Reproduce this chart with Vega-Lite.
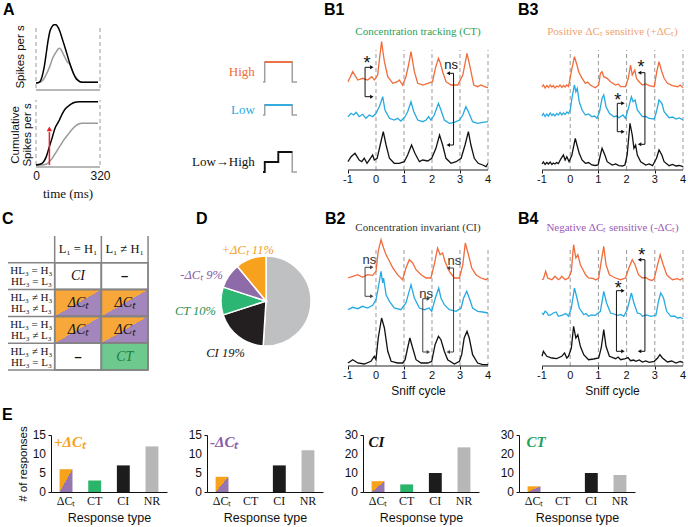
{
"$schema":"https://vega.github.io/schema/vega-lite/v6.json",
"background":"white",
"padding":{"left":1,"top":2,"right":2,"bottom":2},
"spacing":10,
"resolve":{"scale":{"color":"independent","shape":"independent"}},
"config":{"view":{"stroke":null},"font":"Liberation Sans","axis":{"grid":false,"labelColor":"#111","titleColor":"#111","domainColor":"#111","tickColor":"#111","titleFontWeight":"normal","labelFont":"Liberation Sans","titleFont":"Liberation Sans"},"text":{"font":"Liberation Sans"}},
"datasets":{
"psth":[{"stim":"s2","t":0,"rate":0},{"stim":"s2","t":20,"rate":0.01},{"stim":"s2","t":30,"rate":0.03},{"stim":"s2","t":40,"rate":0.07},{"stim":"s2","t":50,"rate":0.13},{"stim":"s2","t":58,"rate":0.18},{"stim":"s2","t":70,"rate":0.27},{"stim":"s2","t":83,"rate":0.39},{"stim":"s2","t":95,"rate":0.46},{"stim":"s2","t":105,"rate":0.51},{"stim":"s2","t":115,"rate":0.55},{"stim":"s2","t":122,"rate":0.54},{"stim":"s2","t":130,"rate":0.5},{"stim":"s2","t":142,"rate":0.42},{"stim":"s2","t":150,"rate":0.37},{"stim":"s2","t":160,"rate":0.32},{"stim":"s2","t":168,"rate":0.3},{"stim":"s2","t":175,"rate":0.25},{"stim":"s2","t":183,"rate":0.18},{"stim":"s2","t":195,"rate":0.11},{"stim":"s2","t":208,"rate":0.055},{"stim":"s2","t":220,"rate":0.02},{"stim":"s2","t":235,"rate":0.01},{"stim":"s2","t":310,"rate":0.01},
{"stim":"s1","t":0,"rate":0},{"stim":"s1","t":15,"rate":0.01},{"stim":"s1","t":25,"rate":0.05},{"stim":"s1","t":35,"rate":0.16},{"stim":"s1","t":42,"rate":0.27},{"stim":"s1","t":50,"rate":0.44},{"stim":"s1","t":60,"rate":0.66},{"stim":"s1","t":70,"rate":0.82},{"stim":"s1","t":80,"rate":0.89},{"stim":"s1","t":90,"rate":0.92},{"stim":"s1","t":100,"rate":0.92},{"stim":"s1","t":110,"rate":0.88},{"stim":"s1","t":120,"rate":0.81},{"stim":"s1","t":130,"rate":0.71},{"stim":"s1","t":140,"rate":0.61},{"stim":"s1","t":150,"rate":0.51},{"stim":"s1","t":160,"rate":0.4},{"stim":"s1","t":170,"rate":0.3},{"stim":"s1","t":180,"rate":0.21},{"stim":"s1","t":190,"rate":0.13},{"stim":"s1","t":200,"rate":0.07},{"stim":"s1","t":210,"rate":0.04},{"stim":"s1","t":220,"rate":0.02},{"stim":"s1","t":240,"rate":0.01},{"stim":"s1","t":310,"rate":0.01}],
"cum":[{"stim":"s2","t":0,"rate":0},{"stim":"s2","t":40,"rate":0.005},{"stim":"s2","t":60,"rate":0.03},{"stim":"s2","t":80,"rate":0.1},{"stim":"s2","t":100,"rate":0.2},{"stim":"s2","t":120,"rate":0.3},{"stim":"s2","t":140,"rate":0.4},{"stim":"s2","t":160,"rate":0.48},{"stim":"s2","t":180,"rate":0.56},{"stim":"s2","t":200,"rate":0.62},{"stim":"s2","t":215,"rate":0.65},{"stim":"s2","t":230,"rate":0.66},{"stim":"s2","t":310,"rate":0.66},
{"stim":"s1","t":0,"rate":0},{"stim":"s1","t":20,"rate":0.01},{"stim":"s1","t":35,"rate":0.04},{"stim":"s1","t":50,"rate":0.12},{"stim":"s1","t":67,"rate":0.29},{"stim":"s1","t":80,"rate":0.42},{"stim":"s1","t":95,"rate":0.58},{"stim":"s1","t":110,"rate":0.67},{"stim":"s1","t":117,"rate":0.71},{"stim":"s1","t":130,"rate":0.8},{"stim":"s1","t":145,"rate":0.88},{"stim":"s1","t":158,"rate":0.92},{"stim":"s1","t":175,"rate":0.96},{"stim":"s1","t":195,"rate":0.99},{"stim":"s1","t":215,"rate":1.0},{"stim":"s1","t":310,"rate":1.0}],
"stim":[{"icon":"High","t":0,"c":0},{"icon":"High","t":0.05,"c":1},{"icon":"High","t":0.86,"c":0},{"icon":"High","t":1,"c":0},{"icon":"Low","t":0,"c":0},{"icon":"Low","t":0.05,"c":0.5},{"icon":"Low","t":0.86,"c":0},{"icon":"Low","t":1,"c":0},{"icon":"Low→High","t":0,"c":0},{"icon":"Low→High","t":0.05,"c":0.5},{"icon":"Low→High","t":0.45,"c":1},{"icon":"Low→High","t":0.86,"c":0},{"icon":"Low→High","t":1,"c":0}],
"stimOn":[{"icon":"High","t":0.05,"c":1},{"icon":"High","t":0.86,"c":1},{"icon":"Low","t":0.05,"c":0.5},{"icon":"Low","t":0.86,"c":0.5},{"icon":"Low→High","t":0,"c":0},{"icon":"Low→High","t":0.05,"c":0.5},{"icon":"Low→High","t":0.45,"c":1},{"icon":"Low→High","t":0.86,"c":1}],
"ticksB":[{"cycle":-1},{"cycle":0},{"cycle":1},{"cycle":2},{"cycle":3},{"cycle":4}],
"b1":[{"cond":"High","cycle":-1.0,"rate":8.83},{"cond":"High","cycle":-0.83,"rate":9.83},{"cond":"High","cycle":-0.65,"rate":9.0},{"cond":"High","cycle":-0.48,"rate":9.17},{"cond":"High","cycle":-0.3,"rate":9.0},{"cond":"High","cycle":-0.15,"rate":9.33},{"cond":"High","cycle":-0.06,"rate":9.0},{"cond":"High","cycle":0.06,"rate":9.5},{"cond":"High","cycle":0.12,"rate":11.0},{"cond":"High","cycle":0.2,"rate":12.83},{"cond":"High","cycle":0.25,"rate":11.8},{"cond":"High","cycle":0.3,"rate":10.83},{"cond":"High","cycle":0.42,"rate":9.33},{"cond":"High","cycle":0.6,"rate":8.67},{"cond":"High","cycle":0.77,"rate":8.83},{"cond":"High","cycle":0.83,"rate":9.0},{"cond":"High","cycle":0.95,"rate":8.5},{"cond":"High","cycle":1.07,"rate":9.33},{"cond":"High","cycle":1.17,"rate":10.6},{"cond":"High","cycle":1.25,"rate":11.83},{"cond":"High","cycle":1.37,"rate":9.83},{"cond":"High","cycle":1.49,"rate":8.67},{"cond":"High","cycle":1.67,"rate":8.5},{"cond":"High","cycle":1.85,"rate":8.67},{"cond":"High","cycle":2.02,"rate":8.83},{"cond":"High","cycle":2.12,"rate":10.17},{"cond":"High","cycle":2.23,"rate":11.17},{"cond":"High","cycle":2.3,"rate":10.67},{"cond":"High","cycle":2.38,"rate":9.83},{"cond":"High","cycle":2.5,"rate":8.83},{"cond":"High","cycle":2.68,"rate":8.5},{"cond":"High","cycle":2.92,"rate":8.5},{"cond":"High","cycle":3.1,"rate":9.5},{"cond":"High","cycle":3.25,"rate":11.67},{"cond":"High","cycle":3.37,"rate":10.17},{"cond":"High","cycle":3.49,"rate":8.5},{"cond":"High","cycle":3.63,"rate":8.33},{"cond":"High","cycle":3.75,"rate":8.5},{"cond":"High","cycle":3.87,"rate":8.33},{"cond":"High","cycle":4.0,"rate":8.23},
{"cond":"Low","cycle":-1.0,"rate":5.33},{"cond":"Low","cycle":-0.89,"rate":5.67},{"cond":"Low","cycle":-0.8,"rate":5.5},{"cond":"Low","cycle":-0.71,"rate":5.77},{"cond":"Low","cycle":-0.6,"rate":5.33},{"cond":"Low","cycle":-0.48,"rate":5.57},{"cond":"Low","cycle":-0.36,"rate":5.17},{"cond":"Low","cycle":-0.24,"rate":5.5},{"cond":"Low","cycle":-0.12,"rate":5.33},{"cond":"Low","cycle":0.0,"rate":5.67},{"cond":"Low","cycle":0.12,"rate":6.33},{"cond":"Low","cycle":0.24,"rate":7.33},{"cond":"Low","cycle":0.32,"rate":6.0},{"cond":"Low","cycle":0.48,"rate":5.17},{"cond":"Low","cycle":0.65,"rate":5.0},{"cond":"Low","cycle":0.77,"rate":5.17},{"cond":"Low","cycle":0.89,"rate":4.9},{"cond":"Low","cycle":1.04,"rate":5.33},{"cond":"Low","cycle":1.13,"rate":5.83},{"cond":"Low","cycle":1.25,"rate":6.83},{"cond":"Low","cycle":1.35,"rate":5.83},{"cond":"Low","cycle":1.49,"rate":5.0},{"cond":"Low","cycle":1.67,"rate":4.83},{"cond":"Low","cycle":1.79,"rate":5.0},{"cond":"Low","cycle":1.88,"rate":5.33},{"cond":"Low","cycle":1.96,"rate":5.0},{"cond":"Low","cycle":2.08,"rate":5.5},{"cond":"Low","cycle":2.23,"rate":6.67},{"cond":"Low","cycle":2.32,"rate":6.0},{"cond":"Low","cycle":2.44,"rate":5.0},{"cond":"Low","cycle":2.62,"rate":4.67},{"cond":"Low","cycle":2.8,"rate":4.77},{"cond":"Low","cycle":2.98,"rate":5.0},{"cond":"Low","cycle":3.1,"rate":5.5},{"cond":"Low","cycle":3.21,"rate":6.33},{"cond":"Low","cycle":3.3,"rate":5.83},{"cond":"Low","cycle":3.45,"rate":4.83},{"cond":"Low","cycle":3.63,"rate":4.67},{"cond":"Low","cycle":3.81,"rate":4.77},{"cond":"Low","cycle":4.0,"rate":4.83},
{"cond":"Low→High","cycle":-1.0,"rate":0.83},{"cond":"Low→High","cycle":-0.89,"rate":1.33},{"cond":"Low→High","cycle":-0.75,"rate":1.67},{"cond":"Low→High","cycle":-0.6,"rate":1.0},{"cond":"Low→High","cycle":-0.51,"rate":0.83},{"cond":"Low→High","cycle":-0.42,"rate":1.17},{"cond":"Low→High","cycle":-0.32,"rate":0.67},{"cond":"Low→High","cycle":-0.2,"rate":1.17},{"cond":"Low→High","cycle":-0.12,"rate":1.5},{"cond":"Low→High","cycle":-0.06,"rate":1.0},{"cond":"Low→High","cycle":0.04,"rate":1.17},{"cond":"Low→High","cycle":0.15,"rate":2.5},{"cond":"Low→High","cycle":0.26,"rate":3.83},{"cond":"Low→High","cycle":0.36,"rate":2.5},{"cond":"Low→High","cycle":0.48,"rate":1.17},{"cond":"Low→High","cycle":0.65,"rate":0.67},{"cond":"Low→High","cycle":0.83,"rate":0.67},{"cond":"Low→High","cycle":1.01,"rate":0.83},{"cond":"Low→High","cycle":1.13,"rate":1.5},{"cond":"Low→High","cycle":1.27,"rate":2.5},{"cond":"Low→High","cycle":1.39,"rate":1.67},{"cond":"Low→High","cycle":1.55,"rate":0.83},{"cond":"Low→High","cycle":1.67,"rate":1.0},{"cond":"Low→High","cycle":1.85,"rate":0.9},{"cond":"Low→High","cycle":1.99,"rate":1.17},{"cond":"Low→High","cycle":2.14,"rate":2.17},{"cond":"Low→High","cycle":2.27,"rate":3.5},{"cond":"Low→High","cycle":2.38,"rate":2.5},{"cond":"Low→High","cycle":2.5,"rate":1.17},{"cond":"Low→High","cycle":2.68,"rate":0.67},{"cond":"Low→High","cycle":2.86,"rate":0.83},{"cond":"Low→High","cycle":3.04,"rate":1.17},{"cond":"Low→High","cycle":3.18,"rate":2.5},{"cond":"Low→High","cycle":3.3,"rate":3.83},{"cond":"Low→High","cycle":3.39,"rate":2.5},{"cond":"Low→High","cycle":3.51,"rate":1.17},{"cond":"Low→High","cycle":3.65,"rate":0.67},{"cond":"Low→High","cycle":3.81,"rate":0.5},{"cond":"Low→High","cycle":3.93,"rate":0.33},{"cond":"Low→High","cycle":4.0,"rate":0.67}],
"b3":[{"cond":"High","cycle":-1.0,"rate":8.3},{"cond":"High","cycle":-0.95,"rate":8.5},{"cond":"High","cycle":-0.89,"rate":8.2},{"cond":"High","cycle":-0.83,"rate":8.45},{"cond":"High","cycle":-0.77,"rate":8.25},{"cond":"High","cycle":-0.71,"rate":8.5},{"cond":"High","cycle":-0.65,"rate":8.3},{"cond":"High","cycle":-0.6,"rate":8.45},{"cond":"High","cycle":-0.54,"rate":8.2},{"cond":"High","cycle":-0.48,"rate":8.4},{"cond":"High","cycle":-0.42,"rate":8.3},{"cond":"High","cycle":-0.36,"rate":8.5},{"cond":"High","cycle":-0.3,"rate":8.25},{"cond":"High","cycle":-0.24,"rate":8.45},{"cond":"High","cycle":-0.18,"rate":8.3},{"cond":"High","cycle":-0.12,"rate":8.5},{"cond":"High","cycle":-0.06,"rate":8.35},{"cond":"High","cycle":0.04,"rate":9.83},{"cond":"High","cycle":0.15,"rate":11.33},{"cond":"High","cycle":0.24,"rate":10.5},{"cond":"High","cycle":0.3,"rate":9.83},{"cond":"High","cycle":0.42,"rate":9.17},{"cond":"High","cycle":0.54,"rate":8.67},{"cond":"High","cycle":0.62,"rate":8.8},{"cond":"High","cycle":0.71,"rate":8.5},{"cond":"High","cycle":0.8,"rate":8.35},{"cond":"High","cycle":0.89,"rate":8.23},{"cond":"High","cycle":1.01,"rate":8.5},{"cond":"High","cycle":1.07,"rate":9.67},{"cond":"High","cycle":1.13,"rate":9.83},{"cond":"High","cycle":1.19,"rate":9.33},{"cond":"High","cycle":1.31,"rate":9.17},{"cond":"High","cycle":1.43,"rate":8.83},{"cond":"High","cycle":1.61,"rate":8.5},{"cond":"High","cycle":1.7,"rate":8.6},{"cond":"High","cycle":1.79,"rate":8.33},{"cond":"High","cycle":1.96,"rate":8.33},{"cond":"High","cycle":2.06,"rate":9.17},{"cond":"High","cycle":2.14,"rate":10.5},{"cond":"High","cycle":2.2,"rate":9.5},{"cond":"High","cycle":2.29,"rate":10.0},{"cond":"High","cycle":2.35,"rate":9.17},{"cond":"High","cycle":2.44,"rate":8.83},{"cond":"High","cycle":2.56,"rate":8.5},{"cond":"High","cycle":2.68,"rate":8.6},{"cond":"High","cycle":2.8,"rate":8.43},{"cond":"High","cycle":2.98,"rate":8.33},{"cond":"High","cycle":3.07,"rate":9.83},{"cond":"High","cycle":3.15,"rate":10.83},{"cond":"High","cycle":3.25,"rate":9.83},{"cond":"High","cycle":3.33,"rate":9.17},{"cond":"High","cycle":3.45,"rate":8.67},{"cond":"High","cycle":3.63,"rate":8.43},{"cond":"High","cycle":3.81,"rate":8.33},{"cond":"High","cycle":3.9,"rate":8.5},{"cond":"High","cycle":4.0,"rate":8.23},
{"cond":"Low","cycle":-1.0,"rate":5.4},{"cond":"Low","cycle":-0.95,"rate":5.65},{"cond":"Low","cycle":-0.89,"rate":5.35},{"cond":"Low","cycle":-0.83,"rate":5.6},{"cond":"Low","cycle":-0.77,"rate":5.4},{"cond":"Low","cycle":-0.71,"rate":5.7},{"cond":"Low","cycle":-0.65,"rate":5.45},{"cond":"Low","cycle":-0.6,"rate":5.6},{"cond":"Low","cycle":-0.54,"rate":5.4},{"cond":"Low","cycle":-0.48,"rate":5.65},{"cond":"Low","cycle":-0.42,"rate":5.5},{"cond":"Low","cycle":-0.36,"rate":5.75},{"cond":"Low","cycle":-0.3,"rate":5.5},{"cond":"Low","cycle":-0.24,"rate":5.7},{"cond":"Low","cycle":-0.18,"rate":5.55},{"cond":"Low","cycle":-0.12,"rate":5.8},{"cond":"Low","cycle":-0.06,"rate":5.65},{"cond":"Low","cycle":0.0,"rate":6.0},{"cond":"Low","cycle":0.08,"rate":7.5},{"cond":"Low","cycle":0.15,"rate":8.5},{"cond":"Low","cycle":0.2,"rate":7.83},{"cond":"Low","cycle":0.25,"rate":8.17},{"cond":"Low","cycle":0.32,"rate":6.83},{"cond":"Low","cycle":0.42,"rate":6.0},{"cond":"Low","cycle":0.54,"rate":5.5},{"cond":"Low","cycle":0.65,"rate":5.6},{"cond":"Low","cycle":0.77,"rate":5.33},{"cond":"Low","cycle":0.86,"rate":5.4},{"cond":"Low","cycle":0.95,"rate":5.17},{"cond":"Low","cycle":1.04,"rate":5.83},{"cond":"Low","cycle":1.13,"rate":7.17},{"cond":"Low","cycle":1.19,"rate":7.5},{"cond":"Low","cycle":1.27,"rate":6.33},{"cond":"Low","cycle":1.39,"rate":5.67},{"cond":"Low","cycle":1.55,"rate":5.33},{"cond":"Low","cycle":1.65,"rate":5.4},{"cond":"Low","cycle":1.73,"rate":5.23},{"cond":"Low","cycle":1.87,"rate":5.5},{"cond":"Low","cycle":1.96,"rate":5.17},{"cond":"Low","cycle":2.08,"rate":6.33},{"cond":"Low","cycle":2.17,"rate":7.33},{"cond":"Low","cycle":2.23,"rate":6.83},{"cond":"Low","cycle":2.3,"rate":7.0},{"cond":"Low","cycle":2.38,"rate":6.0},{"cond":"Low","cycle":2.56,"rate":5.33},{"cond":"Low","cycle":2.68,"rate":5.35},{"cond":"Low","cycle":2.8,"rate":5.17},{"cond":"Low","cycle":2.98,"rate":5.1},{"cond":"Low","cycle":3.06,"rate":5.83},{"cond":"Low","cycle":3.15,"rate":7.0},{"cond":"Low","cycle":3.25,"rate":6.67},{"cond":"Low","cycle":3.33,"rate":5.83},{"cond":"Low","cycle":3.51,"rate":5.23},{"cond":"Low","cycle":3.63,"rate":5.3},{"cond":"Low","cycle":3.75,"rate":5.1},{"cond":"Low","cycle":3.87,"rate":5.2},{"cond":"Low","cycle":4.0,"rate":5.0},
{"cond":"Low→High","cycle":-1.0,"rate":0.6},{"cond":"Low→High","cycle":-0.95,"rate":0.8},{"cond":"Low→High","cycle":-0.89,"rate":0.55},{"cond":"Low→High","cycle":-0.83,"rate":0.75},{"cond":"Low→High","cycle":-0.77,"rate":0.6},{"cond":"Low→High","cycle":-0.71,"rate":0.8},{"cond":"Low→High","cycle":-0.65,"rate":0.55},{"cond":"Low→High","cycle":-0.6,"rate":0.7},{"cond":"Low→High","cycle":-0.54,"rate":0.6},{"cond":"Low→High","cycle":-0.48,"rate":0.75},{"cond":"Low→High","cycle":-0.42,"rate":0.65},{"cond":"Low→High","cycle":-0.32,"rate":1.17},{"cond":"Low→High","cycle":-0.24,"rate":1.5},{"cond":"Low→High","cycle":-0.18,"rate":1.0},{"cond":"Low→High","cycle":-0.12,"rate":1.33},{"cond":"Low→High","cycle":-0.04,"rate":0.83},{"cond":"Low→High","cycle":0.06,"rate":1.5},{"cond":"Low→High","cycle":0.18,"rate":3.17},{"cond":"Low→High","cycle":0.24,"rate":2.5},{"cond":"Low→High","cycle":0.32,"rate":1.67},{"cond":"Low→High","cycle":0.42,"rate":1.0},{"cond":"Low→High","cycle":0.54,"rate":0.67},{"cond":"Low→High","cycle":0.65,"rate":0.75},{"cond":"Low→High","cycle":0.77,"rate":0.5},{"cond":"Low→High","cycle":0.89,"rate":0.45},{"cond":"Low→High","cycle":0.99,"rate":0.5},{"cond":"Low→High","cycle":1.07,"rate":1.5},{"cond":"Low→High","cycle":1.13,"rate":2.17},{"cond":"Low→High","cycle":1.23,"rate":1.5},{"cond":"Low→High","cycle":1.31,"rate":0.83},{"cond":"Low→High","cycle":1.49,"rate":0.5},{"cond":"Low→High","cycle":1.61,"rate":0.6},{"cond":"Low→High","cycle":1.73,"rate":0.43},{"cond":"Low→High","cycle":1.85,"rate":0.4},{"cond":"Low→High","cycle":1.94,"rate":0.5},{"cond":"Low→High","cycle":2.02,"rate":1.5},{"cond":"Low→High","cycle":2.12,"rate":4.67},{"cond":"Low→High","cycle":2.2,"rate":3.5},{"cond":"Low→High","cycle":2.26,"rate":2.17},{"cond":"Low→High","cycle":2.32,"rate":2.5},{"cond":"Low→High","cycle":2.38,"rate":1.5},{"cond":"Low→High","cycle":2.5,"rate":0.83},{"cond":"Low→High","cycle":2.68,"rate":0.5},{"cond":"Low→High","cycle":2.8,"rate":0.6},{"cond":"Low→High","cycle":2.92,"rate":0.43},{"cond":"Low→High","cycle":3.06,"rate":1.17},{"cond":"Low→High","cycle":3.15,"rate":2.0},{"cond":"Low→High","cycle":3.25,"rate":1.5},{"cond":"Low→High","cycle":3.33,"rate":0.83},{"cond":"Low→High","cycle":3.51,"rate":0.43},{"cond":"Low→High","cycle":3.63,"rate":0.55},{"cond":"Low→High","cycle":3.75,"rate":0.4},{"cond":"Low→High","cycle":3.87,"rate":0.45},{"cond":"Low→High","cycle":4.0,"rate":0.33}],
"b2":[{"cond":"High","cycle":-1.0,"rate":8.8},{"cond":"High","cycle":-0.83,"rate":8.97},{"cond":"High","cycle":-0.65,"rate":9.13},{"cond":"High","cycle":-0.48,"rate":8.87},{"cond":"High","cycle":-0.3,"rate":9.13},{"cond":"High","cycle":-0.12,"rate":9.07},{"cond":"High","cycle":0.0,"rate":9.47},{"cond":"High","cycle":0.08,"rate":11.47},{"cond":"High","cycle":0.18,"rate":12.63},{"cond":"High","cycle":0.27,"rate":11.8},{"cond":"High","cycle":0.36,"rate":11.13},{"cond":"High","cycle":0.48,"rate":10.47},{"cond":"High","cycle":0.6,"rate":9.8},{"cond":"High","cycle":0.77,"rate":9.13},{"cond":"High","cycle":0.95,"rate":8.63},{"cond":"High","cycle":1.07,"rate":9.8},{"cond":"High","cycle":1.19,"rate":10.63},{"cond":"High","cycle":1.31,"rate":10.3},{"cond":"High","cycle":1.43,"rate":9.63},{"cond":"High","cycle":1.61,"rate":9.13},{"cond":"High","cycle":1.79,"rate":8.8},{"cond":"High","cycle":1.96,"rate":8.8},{"cond":"High","cycle":2.08,"rate":10.13},{"cond":"High","cycle":2.2,"rate":11.8},{"cond":"High","cycle":2.29,"rate":11.13},{"cond":"High","cycle":2.38,"rate":11.3},{"cond":"High","cycle":2.46,"rate":10.47},{"cond":"High","cycle":2.62,"rate":9.47},{"cond":"High","cycle":2.8,"rate":8.8},{"cond":"High","cycle":2.98,"rate":8.8},{"cond":"High","cycle":3.1,"rate":10.13},{"cond":"High","cycle":3.19,"rate":12.3},{"cond":"High","cycle":3.3,"rate":11.13},{"cond":"High","cycle":3.42,"rate":9.8},{"cond":"High","cycle":3.57,"rate":9.13},{"cond":"High","cycle":3.75,"rate":8.8},{"cond":"High","cycle":3.93,"rate":8.63},{"cond":"High","cycle":4.0,"rate":8.8},
{"cond":"Low","cycle":-1.0,"rate":5.63},{"cond":"Low","cycle":-0.83,"rate":5.87},{"cond":"Low","cycle":-0.65,"rate":5.73},{"cond":"Low","cycle":-0.48,"rate":5.97},{"cond":"Low","cycle":-0.3,"rate":5.8},{"cond":"Low","cycle":-0.12,"rate":6.07},{"cond":"Low","cycle":0.0,"rate":6.63},{"cond":"Low","cycle":0.08,"rate":7.8},{"cond":"Low","cycle":0.18,"rate":9.47},{"cond":"Low","cycle":0.24,"rate":8.3},{"cond":"Low","cycle":0.27,"rate":8.8},{"cond":"Low","cycle":0.36,"rate":7.13},{"cond":"Low","cycle":0.48,"rate":6.47},{"cond":"Low","cycle":0.65,"rate":5.8},{"cond":"Low","cycle":0.89,"rate":5.63},{"cond":"Low","cycle":1.07,"rate":6.3},{"cond":"Low","cycle":1.25,"rate":8.13},{"cond":"Low","cycle":1.37,"rate":6.8},{"cond":"Low","cycle":1.55,"rate":5.8},{"cond":"Low","cycle":1.73,"rate":5.63},{"cond":"Low","cycle":1.9,"rate":5.8},{"cond":"Low","cycle":1.99,"rate":5.47},{"cond":"Low","cycle":2.12,"rate":6.8},{"cond":"Low","cycle":2.24,"rate":7.8},{"cond":"Low","cycle":2.32,"rate":6.8},{"cond":"Low","cycle":2.44,"rate":6.13},{"cond":"Low","cycle":2.62,"rate":5.63},{"cond":"Low","cycle":2.86,"rate":5.47},{"cond":"Low","cycle":3.04,"rate":5.8},{"cond":"Low","cycle":3.13,"rate":6.8},{"cond":"Low","cycle":3.24,"rate":7.47},{"cond":"Low","cycle":3.33,"rate":6.8},{"cond":"Low","cycle":3.45,"rate":5.8},{"cond":"Low","cycle":3.63,"rate":5.47},{"cond":"Low","cycle":3.81,"rate":5.4},{"cond":"Low","cycle":4.0,"rate":5.3},
{"cond":"Low→High","cycle":-1.0,"rate":0.3},{"cond":"Low→High","cycle":-0.83,"rate":0.63},{"cond":"Low→High","cycle":-0.65,"rate":0.3},{"cond":"Low→High","cycle":-0.42,"rate":0.2},{"cond":"Low→High","cycle":-0.18,"rate":0.47},{"cond":"Low→High","cycle":-0.06,"rate":0.97},{"cond":"Low→High","cycle":0.0,"rate":0.63},{"cond":"Low→High","cycle":0.08,"rate":2.8},{"cond":"Low→High","cycle":0.2,"rate":4.8},{"cond":"Low→High","cycle":0.3,"rate":3.8},{"cond":"Low→High","cycle":0.42,"rate":1.47},{"cond":"Low→High","cycle":0.54,"rate":0.47},{"cond":"Low→High","cycle":0.77,"rate":0.3},{"cond":"Low→High","cycle":0.95,"rate":0.3},{"cond":"Low→High","cycle":1.04,"rate":0.63},{"cond":"Low→High","cycle":1.13,"rate":1.8},{"cond":"Low→High","cycle":1.21,"rate":2.8},{"cond":"Low→High","cycle":1.31,"rate":1.8},{"cond":"Low→High","cycle":1.43,"rate":0.63},{"cond":"Low→High","cycle":1.61,"rate":0.3},{"cond":"Low→High","cycle":1.85,"rate":0.3},{"cond":"Low→High","cycle":1.99,"rate":0.47},{"cond":"Low→High","cycle":2.11,"rate":2.13},{"cond":"Low→High","cycle":2.23,"rate":2.97},{"cond":"Low→High","cycle":2.32,"rate":2.63},{"cond":"Low→High","cycle":2.44,"rate":1.47},{"cond":"Low→High","cycle":2.56,"rate":0.63},{"cond":"Low→High","cycle":2.8,"rate":0.2},{"cond":"Low→High","cycle":2.98,"rate":0.47},{"cond":"Low→High","cycle":3.06,"rate":1.13},{"cond":"Low→High","cycle":3.15,"rate":2.8},{"cond":"Low→High","cycle":3.25,"rate":3.47},{"cond":"Low→High","cycle":3.33,"rate":2.8},{"cond":"Low→High","cycle":3.45,"rate":1.13},{"cond":"Low→High","cycle":3.63,"rate":0.3},{"cond":"Low→High","cycle":3.81,"rate":0.13},{"cond":"Low→High","cycle":4.0,"rate":0.13}],
"b4":[{"cond":"High","cycle":-1.0,"rate":8.63},{"cond":"High","cycle":-0.95,"rate":8.7},{"cond":"High","cycle":-0.87,"rate":9.47},{"cond":"High","cycle":-0.8,"rate":8.8},{"cond":"High","cycle":-0.65,"rate":8.63},{"cond":"High","cycle":-0.54,"rate":8.97},{"cond":"High","cycle":-0.42,"rate":8.63},{"cond":"High","cycle":-0.36,"rate":8.75},{"cond":"High","cycle":-0.3,"rate":8.97},{"cond":"High","cycle":-0.18,"rate":8.63},{"cond":"High","cycle":-0.06,"rate":8.8},{"cond":"High","cycle":0.04,"rate":9.47},{"cond":"High","cycle":0.12,"rate":12.13},{"cond":"High","cycle":0.2,"rate":10.8},{"cond":"High","cycle":0.27,"rate":11.13},{"cond":"High","cycle":0.36,"rate":10.13},{"cond":"High","cycle":0.48,"rate":9.47},{"cond":"High","cycle":0.55,"rate":9.1},{"cond":"High","cycle":0.65,"rate":8.8},{"cond":"High","cycle":0.83,"rate":8.73},{"cond":"High","cycle":0.9,"rate":8.6},{"cond":"High","cycle":1.01,"rate":8.8},{"cond":"High","cycle":1.1,"rate":10.47},{"cond":"High","cycle":1.19,"rate":11.97},{"cond":"High","cycle":1.27,"rate":10.13},{"cond":"High","cycle":1.39,"rate":9.13},{"cond":"High","cycle":1.5,"rate":8.95},{"cond":"High","cycle":1.61,"rate":8.8},{"cond":"High","cycle":1.7,"rate":8.7},{"cond":"High","cycle":1.79,"rate":8.63},{"cond":"High","cycle":1.96,"rate":8.8},{"cond":"High","cycle":2.08,"rate":9.8},{"cond":"High","cycle":2.2,"rate":10.63},{"cond":"High","cycle":2.3,"rate":10.13},{"cond":"High","cycle":2.42,"rate":9.13},{"cond":"High","cycle":2.56,"rate":8.8},{"cond":"High","cycle":2.68,"rate":8.85},{"cond":"High","cycle":2.8,"rate":8.63},{"cond":"High","cycle":2.9,"rate":8.55},{"cond":"High","cycle":2.98,"rate":8.73},{"cond":"High","cycle":3.1,"rate":10.13},{"cond":"High","cycle":3.19,"rate":11.13},{"cond":"High","cycle":3.3,"rate":10.13},{"cond":"High","cycle":3.42,"rate":9.13},{"cond":"High","cycle":3.5,"rate":8.9},{"cond":"High","cycle":3.63,"rate":8.63},{"cond":"High","cycle":3.81,"rate":8.73},{"cond":"High","cycle":3.9,"rate":8.6},{"cond":"High","cycle":4.0,"rate":8.8},
{"cond":"Low","cycle":-1.0,"rate":5.3},{"cond":"Low","cycle":-0.95,"rate":5.15},{"cond":"Low","cycle":-0.89,"rate":5.47},{"cond":"Low","cycle":-0.83,"rate":5.35},{"cond":"Low","cycle":-0.77,"rate":5.07},{"cond":"Low","cycle":-0.7,"rate":5.1},{"cond":"Low","cycle":-0.6,"rate":5.3},{"cond":"Low","cycle":-0.5,"rate":5.4},{"cond":"Low","cycle":-0.42,"rate":4.97},{"cond":"Low","cycle":-0.3,"rate":5.05},{"cond":"Low","cycle":-0.24,"rate":5.13},{"cond":"Low","cycle":-0.15,"rate":5.25},{"cond":"Low","cycle":-0.06,"rate":4.97},{"cond":"Low","cycle":0.04,"rate":5.8},{"cond":"Low","cycle":0.15,"rate":7.8},{"cond":"Low","cycle":0.24,"rate":6.8},{"cond":"Low","cycle":0.32,"rate":5.8},{"cond":"Low","cycle":0.48,"rate":5.13},{"cond":"Low","cycle":0.56,"rate":5.25},{"cond":"Low","cycle":0.65,"rate":4.97},{"cond":"Low","cycle":0.75,"rate":5.1},{"cond":"Low","cycle":0.89,"rate":5.07},{"cond":"Low","cycle":1.07,"rate":5.47},{"cond":"Low","cycle":1.19,"rate":7.47},{"cond":"Low","cycle":1.29,"rate":6.3},{"cond":"Low","cycle":1.43,"rate":5.3},{"cond":"Low","cycle":1.55,"rate":5.2},{"cond":"Low","cycle":1.67,"rate":5.07},{"cond":"Low","cycle":1.8,"rate":5.15},{"cond":"Low","cycle":1.9,"rate":4.97},{"cond":"Low","cycle":2.02,"rate":5.63},{"cond":"Low","cycle":2.17,"rate":7.3},{"cond":"Low","cycle":2.26,"rate":6.3},{"cond":"Low","cycle":2.38,"rate":5.3},{"cond":"Low","cycle":2.5,"rate":5.2},{"cond":"Low","cycle":2.56,"rate":4.97},{"cond":"Low","cycle":2.7,"rate":5.1},{"cond":"Low","cycle":2.86,"rate":4.97},{"cond":"Low","cycle":3.04,"rate":5.07},{"cond":"Low","cycle":3.13,"rate":6.47},{"cond":"Low","cycle":3.21,"rate":7.3},{"cond":"Low","cycle":3.31,"rate":6.8},{"cond":"Low","cycle":3.42,"rate":5.47},{"cond":"Low","cycle":3.57,"rate":4.97},{"cond":"Low","cycle":3.7,"rate":5.0},{"cond":"Low","cycle":3.81,"rate":4.8},{"cond":"Low","cycle":3.9,"rate":4.85},{"cond":"Low","cycle":4.0,"rate":4.73},
{"cond":"Low→High","cycle":-1.0,"rate":0.97},{"cond":"Low→High","cycle":-0.95,"rate":1.47},{"cond":"Low→High","cycle":-0.83,"rate":0.97},{"cond":"Low→High","cycle":-0.65,"rate":0.8},{"cond":"Low→High","cycle":-0.48,"rate":0.73},{"cond":"Low→High","cycle":-0.3,"rate":0.97},{"cond":"Low→High","cycle":-0.2,"rate":1.3},{"cond":"Low→High","cycle":-0.12,"rate":0.8},{"cond":"Low→High","cycle":-0.06,"rate":0.97},{"cond":"Low→High","cycle":0.04,"rate":1.8},{"cond":"Low→High","cycle":0.12,"rate":3.97},{"cond":"Low→High","cycle":0.2,"rate":2.8},{"cond":"Low→High","cycle":0.27,"rate":3.13},{"cond":"Low→High","cycle":0.36,"rate":1.97},{"cond":"Low→High","cycle":0.48,"rate":1.13},{"cond":"Low→High","cycle":0.65,"rate":0.63},{"cond":"Low→High","cycle":0.83,"rate":0.7},{"cond":"Low→High","cycle":1.01,"rate":0.8},{"cond":"Low→High","cycle":1.1,"rate":1.8},{"cond":"Low→High","cycle":1.19,"rate":3.63},{"cond":"Low→High","cycle":1.27,"rate":1.97},{"cond":"Low→High","cycle":1.39,"rate":0.97},{"cond":"Low→High","cycle":1.61,"rate":0.73},{"cond":"Low→High","cycle":1.7,"rate":0.9},{"cond":"Low→High","cycle":1.79,"rate":0.63},{"cond":"Low→High","cycle":1.96,"rate":0.73},{"cond":"Low→High","cycle":2.05,"rate":0.85},{"cond":"Low→High","cycle":2.14,"rate":0.53},{"cond":"Low→High","cycle":2.25,"rate":0.6},{"cond":"Low→High","cycle":2.32,"rate":0.47},{"cond":"Low→High","cycle":2.45,"rate":0.6},{"cond":"Low→High","cycle":2.56,"rate":0.4},{"cond":"Low→High","cycle":2.68,"rate":0.5},{"cond":"Low→High","cycle":2.8,"rate":0.37},{"cond":"Low→High","cycle":2.98,"rate":0.47},{"cond":"Low→High","cycle":3.1,"rate":0.8},{"cond":"Low→High","cycle":3.18,"rate":1.13},{"cond":"Low→High","cycle":3.27,"rate":0.8},{"cond":"Low→High","cycle":3.45,"rate":0.4},{"cond":"Low→High","cycle":3.6,"rate":0.5},{"cond":"Low→High","cycle":3.75,"rate":0.3},{"cond":"Low→High","cycle":3.9,"rate":0.45},{"cond":"Low→High","cycle":4.0,"rate":0.37}],
"brackets":[{"panel":"B1","x":-0.39,"x2":-0.39,"y":7.33,"y2":10.27},{"panel":"B1","x":-0.39,"x2":-0.15,"y":10.27,"y2":10.27},{"panel":"B1","x":-0.39,"x2":-0.15,"y":7.33,"y2":7.33},{"panel":"B1","x":2.77,"x2":2.77,"y":2.5,"y2":9.67},{"panel":"B1","x":2.77,"x2":2.58,"y":9.67,"y2":9.67},{"panel":"B1","x":2.77,"x2":2.58,"y":2.5,"y2":2.5},
{"panel":"B3","x":1.67,"x2":1.67,"y":3.83,"y2":6.67},{"panel":"B3","x":1.67,"x2":1.87,"y":6.67,"y2":6.67},{"panel":"B3","x":1.67,"x2":1.87,"y":3.83,"y2":3.83},{"panel":"B3","x":2.65,"x2":2.65,"y":2.57,"y2":9.73},{"panel":"B3","x":2.65,"x2":2.46,"y":9.73,"y2":9.73},{"panel":"B3","x":2.65,"x2":2.46,"y":2.57,"y2":2.57},
{"panel":"B2","x":-0.39,"x2":-0.39,"y":6.97,"y2":9.87},{"panel":"B2","x":-0.39,"x2":-0.15,"y":9.87,"y2":9.87},{"panel":"B2","x":-0.39,"x2":-0.15,"y":6.97,"y2":6.97},{"panel":"B2","x":1.67,"x2":1.67,"y":1.4,"y2":6.73},{"panel":"B2","x":1.67,"x2":1.87,"y":6.73,"y2":6.73},{"panel":"B2","x":1.67,"x2":1.87,"y":1.4,"y2":1.4},{"panel":"B2","x":2.77,"x2":2.77,"y":1.4,"y2":9.8},{"panel":"B2","x":2.77,"x2":2.58,"y":9.8,"y2":9.8},{"panel":"B2","x":2.77,"x2":2.58,"y":1.4,"y2":1.4},
{"panel":"B4","x":1.64,"x2":1.64,"y":1.47,"y2":7.53},{"panel":"B4","x":1.64,"x2":1.87,"y":7.53,"y2":7.53},{"panel":"B4","x":1.64,"x2":1.87,"y":1.47,"y2":1.47},{"panel":"B4","x":2.65,"x2":2.65,"y":1.47,"y2":10.63},{"panel":"B4","x":2.65,"x2":2.46,"y":10.63,"y2":10.63},{"panel":"B4","x":2.65,"x2":2.46,"y":1.47,"y2":1.47}],
"heads":[{"panel":"B1","x":-0.15,"y":10.27,"dir":"right"},{"panel":"B1","x":-0.15,"y":7.33,"dir":"right"},{"panel":"B1","x":2.58,"y":9.67,"dir":"left"},{"panel":"B1","x":2.58,"y":2.5,"dir":"left"},
{"panel":"B3","x":1.87,"y":6.67,"dir":"right"},{"panel":"B3","x":1.87,"y":3.83,"dir":"right"},{"panel":"B3","x":2.46,"y":9.73,"dir":"left"},{"panel":"B3","x":2.46,"y":2.57,"dir":"left"},
{"panel":"B2","x":-0.15,"y":9.87,"dir":"right"},{"panel":"B2","x":-0.15,"y":6.97,"dir":"right"},{"panel":"B2","x":1.87,"y":6.73,"dir":"right"},{"panel":"B2","x":1.87,"y":1.4,"dir":"right"},{"panel":"B2","x":2.58,"y":9.8,"dir":"left"},{"panel":"B2","x":2.58,"y":1.4,"dir":"left"},
{"panel":"B4","x":1.87,"y":7.53,"dir":"right"},{"panel":"B4","x":1.87,"y":1.47,"dir":"right"},{"panel":"B4","x":2.46,"y":10.63,"dir":"left"},{"panel":"B4","x":2.46,"y":1.47,"dir":"left"}],
"sig":[{"panel":"B1","x":-0.32,"y":11.0,"label":"*"},{"panel":"B1","x":2.68,"y":10.5,"label":"ns"},{"panel":"B3","x":1.69,"y":7.33,"label":"*"},{"panel":"B3","x":2.51,"y":10.57,"label":"*"},{"panel":"B2","x":-0.24,"y":10.63,"label":"ns"},{"panel":"B2","x":1.79,"y":7.23,"label":"ns"},{"panel":"B2","x":2.8,"y":10.47,"label":"ns"},{"panel":"B4","x":1.7,"y":8.13,"label":"*"},{"panel":"B4","x":2.54,"y":11.4,"label":"*"}],
"cells":[{"col":"c1","row":"head","kind":"hdr","text":"L₁ = H₁"},{"col":"c2","row":"head","kind":"hdr","text":"L₁ ≠ H₁"},
{"col":"label","row":"r1","kind":"rowlab","text":"HL₃ = H₃\nHL₃ = L₃"},{"col":"label","row":"r2","kind":"rowlab","text":"HL₃ ≠ H₃\nHL₃ ≠ L₃"},{"col":"label","row":"r3","kind":"rowlab","text":"HL₃ = H₃\nHL₃ ≠ L₃"},{"col":"label","row":"r4","kind":"rowlab","text":"HL₃ ≠ H₃\nHL₃ = L₃"},
{"col":"c1","row":"r1","kind":"plain","text":"CI"},{"col":"c2","row":"r1","kind":"plain","text":"–"},{"col":"c1","row":"r2","kind":"dc","text":"ΔCₜ"},{"col":"c2","row":"r2","kind":"dc","text":"ΔCₜ"},{"col":"c1","row":"r3","kind":"dc","text":"ΔCₜ"},{"col":"c2","row":"r3","kind":"dc","text":"ΔCₜ"},{"col":"c1","row":"r4","kind":"plain","text":"–"},{"col":"c2","row":"r4","kind":"ct","text":"CT"}],
"pie":[{"type":"NR","pct":51,"rank":1,"label":""},{"type":"CI","pct":19,"rank":2,"label":"CI 19%"},{"type":"CT","pct":10,"rank":3,"label":"CT 10%"},{"type":"-ΔCₜ","pct":9,"rank":4,"label":"-ΔCₜ 9%"},{"type":"+ΔCₜ","pct":11,"rank":5,"label":"+ΔCₜ 11%"}],
"resp":[{"panel":"+ΔCₜ","type":"ΔCₜ","n":6},{"panel":"+ΔCₜ","type":"CT","n":3},{"panel":"+ΔCₜ","type":"CI","n":7},{"panel":"+ΔCₜ","type":"NR","n":12},
{"panel":"-ΔCₜ","type":"ΔCₜ","n":4},{"panel":"-ΔCₜ","type":"CT","n":0},{"panel":"-ΔCₜ","type":"CI","n":7},{"panel":"-ΔCₜ","type":"NR","n":11},
{"panel":"CI","type":"ΔCₜ","n":5.7},{"panel":"CI","type":"CT","n":4},{"panel":"CI","type":"CI","n":10},{"panel":"CI","type":"NR","n":23.5},
{"panel":"CT","type":"ΔCₜ","n":3},{"panel":"CT","type":"CT","n":0},{"panel":"CT","type":"CI","n":10},{"panel":"CT","type":"NR","n":9}],
"ticks15":[{"n":0},{"n":5},{"n":10},{"n":15}],
"ticks30":[{"n":0},{"n":10},{"n":20},{"n":30}]
},
"vconcat":[
{"hconcat":[
 {"width":92,"height":142,"layer":[
  {"data":{"values":[{"t":0},{"t":320}]},"mark":{"type":"rule","strokeDash":[4,3],"color":"#9a9a9a","strokeWidth":1},
   "encoding":{"x":{"field":"t","type":"quantitative","scale":{"domain":[-140,320],"nice":false,"zero":false},"axis":{"values":[0,320],"domain":false,"ticks":false,"labelFontSize":12,"labelPadding":3,"labelFlush":false,"title":null}},
    "y":{"datum":0,"type":"quantitative","scale":{"domain":[-0.032,2.21],"nice":false,"zero":false},"axis":null},"y2":{"datum":1.027}}},
  {"data":{"values":[{"t":0},{"t":320}]},"mark":{"type":"rule","strokeDash":[4,3],"color":"#9a9a9a","strokeWidth":1,"yOffset":-82,"y2Offset":-82},
   "encoding":{"x":{"field":"t","type":"quantitative"},"y":{"datum":-0.08,"type":"quantitative","axis":null},"y2":{"datum":0.885}}},
  {"data":{"values":[{"t":0}]},"mark":{"type":"rule","color":"#a0a0a0","strokeWidth":1.5,"yOffset":-82},
   "encoding":{"x":{"field":"t","type":"quantitative"},"x2":{"datum":320},"y":{"datum":-0.11,"type":"quantitative","axis":null}}},
  {"data":{"values":[{"t":0}]},"mark":{"type":"rule","color":"#a0a0a0","strokeWidth":1.5},
   "encoding":{"x":{"field":"t","type":"quantitative"},"x2":{"datum":320},"y":{"datum":-0.032,"type":"quantitative","axis":null}}},
  {"data":{"name":"psth"},"mark":{"type":"line","strokeWidth":1.5,"interpolate":"monotone","yOffset":-82},
   "encoding":{"x":{"field":"t","type":"quantitative"},"y":{"field":"rate","type":"quantitative","axis":null},"color":{"field":"stim","type":"nominal","scale":{"domain":["s2","s1"],"range":["#9a9a9a","#000000"]},"legend":null}}},
  {"data":{"name":"cum"},"mark":{"type":"line","strokeWidth":1.5,"interpolate":"monotone"},
   "encoding":{"x":{"field":"t","type":"quantitative"},"y":{"field":"rate","type":"quantitative","axis":null},"color":{"field":"stim","type":"nominal","scale":{"domain":["s2","s1"],"range":["#9a9a9a","#000000"]},"legend":null}}},
  {"data":{"values":[{"t":67}]},"mark":{"type":"rule","color":"#e8202a","strokeWidth":1.5},
   "encoding":{"x":{"field":"t","type":"quantitative"},"y":{"datum":0,"type":"quantitative","axis":null},"y2":{"datum":0.52}}},
  {"data":{"values":[{"t":67}]},"mark":{"type":"point","shape":"triangle-up","filled":true,"size":30,"color":"#e8202a","opacity":1},
   "encoding":{"x":{"field":"t","type":"quantitative"},"y":{"datum":0.57,"type":"quantitative","axis":null}}},
  {"data":{"values":[{"label":"Spikes per s"}]},"mark":{"type":"text","angle":270,"baseline":"middle","fontSize":11.5,"color":"#111"},
   "encoding":{"x":{"datum":-76,"type":"quantitative"},"y":{"datum":1.706,"type":"quantitative","axis":null},"text":{"field":"label"}}},
  {"data":{"values":[{"label":"Cumulative\nSpikes per s"}]},"mark":{"type":"text","angle":270,"baseline":"middle","fontSize":11.5,"lineBreak":"\n","lineHeight":12,"color":"#111"},
   "encoding":{"x":{"datum":-100,"type":"quantitative"},"y":{"datum":0.474,"type":"quantitative","axis":null},"text":{"field":"label"}}},
  {"data":{"values":[{"label":"time (ms)"}]},"mark":{"type":"text","baseline":"middle","font":"Liberation Serif","fontSize":13,"dy":27,"color":"#111"},
   "encoding":{"x":{"datum":160,"type":"quantitative"},"y":{"datum":-0.032,"type":"quantitative","axis":null},"text":{"field":"label"}}},
  {"data":{"values":[{"label":"A"}]},"mark":{"type":"text","align":"left","baseline":"middle","fontSize":16,"fontWeight":"bold","dx":-5,"dy":-15},
   "encoding":{"x":{"datum":-140,"type":"quantitative"},"y":{"datum":2.21,"type":"quantitative","axis":null},"text":{"field":"label"}}}
 ]},
 {"width":177,"height":157,"layer":[
  {"data":{"name":"stim"},"transform":[{"filter":"datum.icon === 'High'"}],"mark":{"type":"line","interpolate":"step-after","color":"#a0a0a0","strokeWidth":1.5,"yOffset":-100},
   "encoding":{"x":{"field":"t","type":"quantitative","scale":{"domain":[-4.21,1],"nice":false,"zero":false},"axis":null},"y":{"field":"c","type":"quantitative","scale":{"domain":[0,7.85],"nice":false,"zero":false},"axis":null}}},
  {"data":{"name":"stimOn"},"transform":[{"filter":"datum.icon === 'High'"}],"mark":{"type":"line","interpolate":"step-after","color":"#f26b3a","strokeWidth":1.8,"yOffset":-100},
   "encoding":{"x":{"field":"t","type":"quantitative","axis":null},"y":{"field":"c","type":"quantitative","axis":null}}},
  {"data":{"name":"stim"},"transform":[{"filter":"datum.icon === 'Low'"}],"mark":{"type":"line","interpolate":"step-after","color":"#a0a0a0","strokeWidth":1.5,"yOffset":-67},
   "encoding":{"x":{"field":"t","type":"quantitative","axis":null},"y":{"field":"c","type":"quantitative","axis":null}}},
  {"data":{"name":"stimOn"},"transform":[{"filter":"datum.icon === 'Low'"}],"mark":{"type":"line","interpolate":"step-after","color":"#27aae1","strokeWidth":1.8,"yOffset":-67},
   "encoding":{"x":{"field":"t","type":"quantitative","axis":null},"y":{"field":"c","type":"quantitative","axis":null}}},
  {"data":{"name":"stim"},"transform":[{"filter":"datum.icon === 'Low→High'"}],"mark":{"type":"line","interpolate":"step-after","color":"#a0a0a0","strokeWidth":1.5,"yOffset":-10},
   "encoding":{"x":{"field":"t","type":"quantitative","axis":null},"y":{"field":"c","type":"quantitative","axis":null}}},
  {"data":{"name":"stimOn"},"transform":[{"filter":"datum.icon === 'Low→High'"}],"mark":{"type":"line","interpolate":"step-after","color":"#111111","strokeWidth":1.8,"yOffset":-10},
   "encoding":{"x":{"field":"t","type":"quantitative","axis":null},"y":{"field":"c","type":"quantitative","axis":null}}},
  {"data":{"values":[{"label":"High"}]},"mark":{"type":"text","align":"right","baseline":"middle","font":"Liberation Serif","fontSize":13,"color":"#f26b3a","dy":-100},
   "encoding":{"x":{"datum":-0.24,"type":"quantitative","axis":null},"y":{"datum":0.5,"type":"quantitative","axis":null},"text":{"field":"label"}}},
  {"data":{"values":[{"label":"Low"}]},"mark":{"type":"text","align":"right","baseline":"middle","font":"Liberation Serif","fontSize":13,"color":"#27aae1","dy":-67},
   "encoding":{"x":{"datum":-0.24,"type":"quantitative","axis":null},"y":{"datum":0.25,"type":"quantitative","axis":null},"text":{"field":"label"}}},
  {"data":{"values":[{"label":"Low→High"}]},"mark":{"type":"text","align":"right","baseline":"middle","font":"Liberation Serif","fontSize":13,"color":"#111111","dy":-10},
   "encoding":{"x":{"datum":-0.24,"type":"quantitative","axis":null},"y":{"datum":0.5,"type":"quantitative","axis":null},"text":{"field":"label"}}}
 ]},
 {"width":171,"height":145,"layer":[
  {"data":{"values":[{"cycle":0},{"cycle":1},{"cycle":2},{"cycle":3},{"cycle":4}]},"mark":{"type":"rule","strokeDash":[4,3],"color":"#9a9a9a","strokeWidth":1},
   "encoding":{"x":{"field":"cycle","type":"quantitative","scale":{"domain":[-2.107,4],"nice":false,"zero":false},"axis":{"values":[-1,0,1,2,3,4],"domain":false,"tickSize":3,"labels":false,"title":null}},
    "y":{"datum":0,"type":"quantitative","scale":{"domain":[0,14.5],"nice":false,"zero":false},"axis":null},"y2":{"datum":12}}},
  {"data":{"values":[{"cycle":-1}]},"mark":{"type":"rule","color":"#222222","strokeWidth":1},"encoding":{"x":{"field":"cycle","type":"quantitative"},"x2":{"datum":4},"y":{"datum":0,"type":"quantitative","axis":null}}},
  {"data":{"name":"ticksB"},"mark":{"type":"text","baseline":"top","fontSize":11,"dy":4,"color":"#111111"},"encoding":{"x":{"field":"cycle","type":"quantitative"},"y":{"datum":0,"type":"quantitative","axis":null},"text":{"field":"cycle","type":"nominal"}}},
  {"data":{"name":"b1"},"mark":{"type":"line","strokeWidth":1.3},"encoding":{"x":{"field":"cycle","type":"quantitative"},"y":{"field":"rate","type":"quantitative","axis":null},"color":{"field":"cond","type":"nominal","scale":{"domain":["High","Low","Low→High"],"range":["#f26b3a","#27aae1","#111111"]},"legend":null}}},
  {"data":{"name":"brackets"},"transform":[{"filter":"datum.panel === 'B1'"}],"mark":{"type":"rule","color":"#111111","strokeWidth":1},"encoding":{"x":{"field":"x","type":"quantitative"},"x2":{"field":"x2"},"y":{"field":"y","type":"quantitative","axis":null},"y2":{"field":"y2"}}},
  {"data":{"name":"heads"},"transform":[{"filter":"datum.panel === 'B1'"}],"mark":{"type":"point","filled":true,"size":16,"color":"#111111","opacity":1},"encoding":{"x":{"field":"x","type":"quantitative"},"y":{"field":"y","type":"quantitative","axis":null},"shape":{"field":"dir","type":"nominal","scale":{"domain":["right","left"],"range":["triangle-right","triangle-left"]},"legend":null}}},
  {"data":{"name":"sig"},"transform":[{"filter":"datum.panel === 'B1' && datum.label === '*'"}],"mark":{"type":"text","fontSize":18,"dy":4,"color":"#111111"},"encoding":{"x":{"field":"x","type":"quantitative"},"y":{"field":"y","type":"quantitative","axis":null},"text":{"field":"label"}}},
  {"data":{"name":"sig"},"transform":[{"filter":"datum.panel === 'B1' && datum.label === 'ns'"}],"mark":{"type":"text","fontSize":13,"color":"#111111"},"encoding":{"x":{"field":"x","type":"quantitative"},"y":{"field":"y","type":"quantitative","axis":null},"text":{"field":"label"}}},
  {"data":{"values":[{"label":"Concentration tracking (CT)"}]},"mark":{"type":"text","font":"Liberation Serif","fontSize":11,"color":"#2ca05a"},"encoding":{"x":{"datum":1.5,"type":"quantitative"},"y":{"datum":13.8,"type":"quantitative","axis":null},"text":{"field":"label"}}},
  {"data":{"values":[{"label":"B1"}]},"mark":{"type":"text","align":"left","baseline":"middle","fontSize":16,"fontWeight":"bold","dx":-24},"encoding":{"x":{"datum":-1,"type":"quantitative"},"y":{"datum":16,"type":"quantitative","axis":null},"text":{"field":"label"}}}
 ]},
 {"width":175,"height":145,"layer":[
  {"data":{"values":[{"cycle":0},{"cycle":1},{"cycle":2},{"cycle":3},{"cycle":4}]},"mark":{"type":"rule","strokeDash":[4,3],"color":"#9a9a9a","strokeWidth":1},
   "encoding":{"x":{"field":"cycle","type":"quantitative","scale":{"domain":[-2.206,4],"nice":false,"zero":false},"axis":{"values":[-1,0,1,2,3,4],"domain":false,"tickSize":3,"labels":false,"title":null}},
    "y":{"datum":0,"type":"quantitative","scale":{"domain":[0,14.5],"nice":false,"zero":false},"axis":null},"y2":{"datum":12}}},
  {"data":{"values":[{"cycle":-1}]},"mark":{"type":"rule","color":"#222222","strokeWidth":1},"encoding":{"x":{"field":"cycle","type":"quantitative"},"x2":{"datum":4},"y":{"datum":0,"type":"quantitative","axis":null}}},
  {"data":{"name":"ticksB"},"mark":{"type":"text","baseline":"top","fontSize":11,"dy":4,"color":"#111111"},"encoding":{"x":{"field":"cycle","type":"quantitative"},"y":{"datum":0,"type":"quantitative","axis":null},"text":{"field":"cycle","type":"nominal"}}},
  {"data":{"name":"b3"},"mark":{"type":"line","strokeWidth":1.3},"encoding":{"x":{"field":"cycle","type":"quantitative"},"y":{"field":"rate","type":"quantitative","axis":null},"color":{"field":"cond","type":"nominal","scale":{"domain":["High","Low","Low→High"],"range":["#f26b3a","#27aae1","#111111"]},"legend":null}}},
  {"data":{"name":"brackets"},"transform":[{"filter":"datum.panel === 'B3'"}],"mark":{"type":"rule","color":"#111111","strokeWidth":1},"encoding":{"x":{"field":"x","type":"quantitative"},"x2":{"field":"x2"},"y":{"field":"y","type":"quantitative","axis":null},"y2":{"field":"y2"}}},
  {"data":{"name":"heads"},"transform":[{"filter":"datum.panel === 'B3'"}],"mark":{"type":"point","filled":true,"size":16,"color":"#111111","opacity":1},"encoding":{"x":{"field":"x","type":"quantitative"},"y":{"field":"y","type":"quantitative","axis":null},"shape":{"field":"dir","type":"nominal","scale":{"domain":["right","left"],"range":["triangle-right","triangle-left"]},"legend":null}}},
  {"data":{"name":"sig"},"transform":[{"filter":"datum.panel === 'B3' && datum.label === '*'"}],"mark":{"type":"text","fontSize":18,"dy":4,"color":"#111111"},"encoding":{"x":{"field":"x","type":"quantitative"},"y":{"field":"y","type":"quantitative","axis":null},"text":{"field":"label"}}},
  {"data":{"values":[{"label":"Positive ΔCₜ sensitive (+ΔCₜ)"}]},"mark":{"type":"text","font":"Liberation Serif","fontSize":11,"color":"#f0a271"},"encoding":{"x":{"datum":1.5,"type":"quantitative"},"y":{"datum":13.8,"type":"quantitative","axis":null},"text":{"field":"label"}}},
  {"data":{"values":[{"label":"B3"}]},"mark":{"type":"text","align":"left","baseline":"middle","fontSize":16,"fontWeight":"bold","dx":-24},"encoding":{"x":{"datum":-1,"type":"quantitative"},"y":{"datum":16,"type":"quantitative","axis":null},"text":{"field":"label"}}}
 ]}
],"spacing":20,"bounds":"flush","resolve":{"scale":{"color":"independent","shape":"independent"}}},
{"hconcat":[
 {"width":193,"height":134,"layer":[
  {"data":{"name":"cells"},"transform":[{"filter":"datum.kind === 'plain'"}],"mark":{"type":"rect","fill":"#ffffff","stroke":"#858585","strokeWidth":1.5},
   "encoding":{"x":{"field":"col","type":"nominal","scale":{"domain":["label","c1","c2"],"paddingInner":0,"paddingOuter":0.567,"align":0},"axis":null},"y":{"field":"row","type":"nominal","scale":{"domain":["head","r1","r2","r3","r4"],"paddingInner":0,"paddingOuter":0},"axis":null}}},
  {"data":{"name":"cells"},"transform":[{"filter":"datum.kind === 'dc'"}],"mark":{"type":"rect","stroke":"#707070","strokeWidth":1.5,"fill":{"gradient":"linear","x1":0,"y1":0,"x2":1,"y2":1,"stops":[{"offset":0,"color":"#f8a83a"},{"offset":0.5,"color":"#f8a83a"},{"offset":0.5,"color":"#a286bc"},{"offset":1,"color":"#a286bc"}]}},
   "encoding":{"x":{"field":"col","type":"nominal","axis":null},"y":{"field":"row","type":"nominal","axis":null}}},
  {"data":{"name":"cells"},"transform":[{"filter":"datum.kind === 'ct'"}],"mark":{"type":"rect","fill":"#6dc98e","stroke":"#707070","strokeWidth":1.5},
   "encoding":{"x":{"field":"col","type":"nominal","axis":null},"y":{"field":"row","type":"nominal","axis":null}}},
  {"data":{"values":[{"row":"head"},{"row":"r1"},{"row":"r2"},{"row":"r3"},{"row":"r4"}]},"mark":{"type":"rule","color":"#858585","strokeWidth":1.5},
   "encoding":{"y":{"field":"row","type":"nominal","bandPosition":1,"axis":null},"x":{"datum":"label","type":"nominal","bandPosition":0,"axis":null},"x2":{"datum":"c2","bandPosition":1}}},
  {"data":{"values":[{"col":"c1"},{"col":"c2"}]},"mark":{"type":"rule","color":"#858585","strokeWidth":1.5},
   "encoding":{"x":{"field":"col","type":"nominal","bandPosition":0,"axis":null},"y":{"datum":"head","type":"nominal","bandPosition":0,"axis":null},"y2":{"datum":"r4","bandPosition":1}}},
  {"data":{"values":[{"col":"c2"}]},"mark":{"type":"rule","color":"#858585","strokeWidth":1.5},
   "encoding":{"x":{"field":"col","type":"nominal","bandPosition":1,"axis":null},"y":{"datum":"head","type":"nominal","bandPosition":0,"axis":null},"y2":{"datum":"r4","bandPosition":1}}},
  {"data":{"name":"cells"},"transform":[{"filter":"datum.kind === 'hdr'"}],"mark":{"type":"text","font":"Liberation Serif","fontSize":12.5,"color":"#111111"},
   "encoding":{"x":{"field":"col","type":"nominal","axis":null},"y":{"field":"row","type":"nominal","axis":null},"text":{"field":"text"}}},
  {"data":{"name":"cells"},"transform":[{"filter":"datum.kind === 'rowlab'"}],"mark":{"type":"text","font":"Liberation Serif","fontSize":11,"lineBreak":"\n","lineHeight":11,"dy":-5,"color":"#111111"},
   "encoding":{"x":{"field":"col","type":"nominal","axis":null},"y":{"field":"row","type":"nominal","axis":null},"text":{"field":"text"}}},
  {"data":{"name":"cells"},"transform":[{"filter":"(datum.kind === 'dc' || datum.kind === 'ct' || datum.kind === 'plain') && datum.text !== '–'"}],"mark":{"type":"text","font":"Liberation Serif","fontStyle":"italic","fontSize":14},
   "encoding":{"x":{"field":"col","type":"nominal","axis":null},"y":{"field":"row","type":"nominal","axis":null},"text":{"field":"text"},"color":{"condition":{"test":"datum.kind === 'ct'","value":"#1e7b47"},"value":"#111111"}}},
  {"data":{"name":"cells"},"transform":[{"filter":"datum.text === '–'"}],"mark":{"type":"text","font":"Liberation Sans","fontWeight":"bold","fontSize":13,"color":"#111111"},
   "encoding":{"x":{"field":"col","type":"nominal","axis":null},"y":{"field":"row","type":"nominal","axis":null},"text":{"field":"text"}}},
  {"data":{"values":[{"label":"C"}]},"mark":{"type":"text","align":"left","baseline":"middle","fontSize":16,"fontWeight":"bold","dx":-6,"dy":-17},
   "encoding":{"x":{"datum":"label","type":"nominal","bandPosition":0,"axis":null},"y":{"datum":"head","type":"nominal","bandPosition":0,"axis":null},"text":{"field":"label"}}},
  {"data":{"values":[{"label":"D"}]},"mark":{"type":"text","align":"left","baseline":"middle","fontSize":16,"fontWeight":"bold","dx":48,"dy":-17},
   "encoding":{"x":{"datum":"c2","type":"nominal","bandPosition":1,"axis":null},"y":{"datum":"head","type":"nominal","bandPosition":0,"axis":null},"text":{"field":"label"}}}
 ]},
 {"width":90,"height":130,"data":{"name":"pie"},
  "encoding":{"theta":{"field":"pct","type":"quantitative","stack":true},"order":{"field":"rank","type":"quantitative"}},
  "layer":[
   {"mark":{"type":"arc","outerRadius":45,"stroke":"#ffffff","strokeWidth":1.5},"encoding":{"color":{"field":"type","type":"nominal","scale":{"domain":["NR","CI","CT","-ΔCₜ","+ΔCₜ"],"range":["#bfc0c2","#231f20","#2bb673","#8e6ba8","#f8a11d"]},"legend":null}}},
   {"mark":{"type":"text","radius":54,"font":"Liberation Serif","fontStyle":"italic","fontSize":12.5,"color":"#f39c1f"},"encoding":{"text":{"condition":{"test":"datum.type === '+ΔCₜ'","field":"label"},"value":""}}},
   {"mark":{"type":"text","radius":52,"align":"right","dy":3,"font":"Liberation Serif","fontStyle":"italic","fontSize":12.5,"color":"#8a5aa8"},"encoding":{"text":{"condition":{"test":"datum.type === '-ΔCₜ'","field":"label"},"value":""}}},
   {"mark":{"type":"text","radius":50,"align":"right","dy":10,"font":"Liberation Serif","fontStyle":"italic","fontSize":12.5,"color":"#1f8f55"},"encoding":{"text":{"condition":{"test":"datum.type === 'CT'","field":"label"},"value":""}}},
   {"mark":{"type":"text","radius":66,"font":"Liberation Serif","fontStyle":"italic","fontSize":12.5,"color":"#111111"},"encoding":{"text":{"condition":{"test":"datum.type === 'CI'","field":"label"},"value":""}}}
  ]},
 {"width":157,"height":130,"layer":[
  {"data":{"values":[{"cycle":0},{"cycle":1},{"cycle":2},{"cycle":3},{"cycle":4}]},"mark":{"type":"rule","strokeDash":[4,3],"color":"#9a9a9a","strokeWidth":1},
   "encoding":{"x":{"field":"cycle","type":"quantitative","scale":{"domain":[-1.607,4],"nice":false,"zero":false},"axis":{"values":[-1,0,1,2,3,4],"domain":false,"tickSize":3,"labels":false,"title":"Sniff cycle","titleFontSize":12,"titlePadding":16,"titleX":87}},
    "y":{"datum":0,"type":"quantitative","scale":{"domain":[0,13],"nice":false,"zero":false},"axis":null},"y2":{"datum":11.7}}},
  {"data":{"values":[{"cycle":-1}]},"mark":{"type":"rule","color":"#222222","strokeWidth":1},"encoding":{"x":{"field":"cycle","type":"quantitative"},"x2":{"datum":4},"y":{"datum":0,"type":"quantitative","axis":null}}},
  {"data":{"name":"ticksB"},"mark":{"type":"text","baseline":"top","fontSize":11,"dy":4,"color":"#111111"},"encoding":{"x":{"field":"cycle","type":"quantitative"},"y":{"datum":0,"type":"quantitative","axis":null},"text":{"field":"cycle","type":"nominal"}}},
  {"data":{"name":"b2"},"mark":{"type":"line","strokeWidth":1.3},"encoding":{"x":{"field":"cycle","type":"quantitative"},"y":{"field":"rate","type":"quantitative","axis":null},"color":{"field":"cond","type":"nominal","scale":{"domain":["High","Low","Low→High"],"range":["#f26b3a","#27aae1","#111111"]},"legend":null}}},
  {"data":{"name":"brackets"},"transform":[{"filter":"datum.panel === 'B2'"}],"mark":{"type":"rule","color":"#444444","strokeWidth":1},"encoding":{"x":{"field":"x","type":"quantitative"},"x2":{"field":"x2"},"y":{"field":"y","type":"quantitative","axis":null},"y2":{"field":"y2"}}},
  {"data":{"name":"heads"},"transform":[{"filter":"datum.panel === 'B2'"}],"mark":{"type":"point","filled":true,"size":16,"color":"#444444","opacity":1},"encoding":{"x":{"field":"x","type":"quantitative"},"y":{"field":"y","type":"quantitative","axis":null},"shape":{"field":"dir","type":"nominal","scale":{"domain":["right","left"],"range":["triangle-right","triangle-left"]},"legend":null}}},
  {"data":{"name":"sig"},"transform":[{"filter":"datum.panel === 'B2' && datum.label === 'ns'"}],"mark":{"type":"text","fontSize":13,"color":"#333333"},"encoding":{"x":{"field":"x","type":"quantitative"},"y":{"field":"y","type":"quantitative","axis":null},"text":{"field":"label"}}},
  {"data":{"values":[{"label":"Concentration invariant (CI)"}]},"mark":{"type":"text","font":"Liberation Serif","fontSize":11,"color":"#333333"},"encoding":{"x":{"datum":1.5,"type":"quantitative"},"y":{"datum":13.8,"type":"quantitative","axis":null},"text":{"field":"label"}}},
  {"data":{"values":[{"label":"B2"}]},"mark":{"type":"text","align":"left","baseline":"middle","fontSize":16,"fontWeight":"bold","dx":-23},"encoding":{"x":{"datum":-1,"type":"quantitative"},"y":{"datum":14.7,"type":"quantitative","axis":null},"text":{"field":"label"}}}
 ]},
 {"width":175,"height":130,"layer":[
  {"data":{"values":[{"cycle":0},{"cycle":1},{"cycle":2},{"cycle":3},{"cycle":4}]},"mark":{"type":"rule","strokeDash":[4,3],"color":"#9a9a9a","strokeWidth":1},
   "encoding":{"x":{"field":"cycle","type":"quantitative","scale":{"domain":[-2.206,4],"nice":false,"zero":false},"axis":{"values":[-1,0,1,2,3,4],"domain":false,"tickSize":3,"labels":false,"title":"Sniff cycle","titleFontSize":12,"titlePadding":16,"titleX":104}},
    "y":{"datum":0,"type":"quantitative","scale":{"domain":[0,13],"nice":false,"zero":false},"axis":null},"y2":{"datum":11.7}}},
  {"data":{"values":[{"cycle":-1}]},"mark":{"type":"rule","color":"#222222","strokeWidth":1},"encoding":{"x":{"field":"cycle","type":"quantitative"},"x2":{"datum":4},"y":{"datum":0,"type":"quantitative","axis":null}}},
  {"data":{"name":"ticksB"},"mark":{"type":"text","baseline":"top","fontSize":11,"dy":4,"color":"#111111"},"encoding":{"x":{"field":"cycle","type":"quantitative"},"y":{"datum":0,"type":"quantitative","axis":null},"text":{"field":"cycle","type":"nominal"}}},
  {"data":{"name":"b4"},"mark":{"type":"line","strokeWidth":1.3},"encoding":{"x":{"field":"cycle","type":"quantitative"},"y":{"field":"rate","type":"quantitative","axis":null},"color":{"field":"cond","type":"nominal","scale":{"domain":["High","Low","Low→High"],"range":["#f26b3a","#27aae1","#111111"]},"legend":null}}},
  {"data":{"name":"brackets"},"transform":[{"filter":"datum.panel === 'B4'"}],"mark":{"type":"rule","color":"#111111","strokeWidth":1},"encoding":{"x":{"field":"x","type":"quantitative"},"x2":{"field":"x2"},"y":{"field":"y","type":"quantitative","axis":null},"y2":{"field":"y2"}}},
  {"data":{"name":"heads"},"transform":[{"filter":"datum.panel === 'B4'"}],"mark":{"type":"point","filled":true,"size":16,"color":"#111111","opacity":1},"encoding":{"x":{"field":"x","type":"quantitative"},"y":{"field":"y","type":"quantitative","axis":null},"shape":{"field":"dir","type":"nominal","scale":{"domain":["right","left"],"range":["triangle-right","triangle-left"]},"legend":null}}},
  {"data":{"name":"sig"},"transform":[{"filter":"datum.panel === 'B4' && datum.label === '*'"}],"mark":{"type":"text","fontSize":18,"dy":4,"color":"#111111"},"encoding":{"x":{"field":"x","type":"quantitative"},"y":{"field":"y","type":"quantitative","axis":null},"text":{"field":"label"}}},
  {"data":{"values":[{"label":"Negative ΔCₜ sensitive (-ΔCₜ)"}]},"mark":{"type":"text","font":"Liberation Serif","fontSize":11,"color":"#9b59b6"},"encoding":{"x":{"datum":1.5,"type":"quantitative"},"y":{"datum":13.8,"type":"quantitative","axis":null},"text":{"field":"label"}}},
  {"data":{"values":[{"label":"B4"}]},"mark":{"type":"text","align":"left","baseline":"middle","fontSize":16,"fontWeight":"bold","dx":-24},"encoding":{"x":{"datum":-1,"type":"quantitative"},"y":{"datum":14.7,"type":"quantitative","axis":null},"text":{"field":"label"}}}
 ]}
],"spacing":20,"bounds":"flush","resolve":{"scale":{"color":"independent","shape":"independent"}}},
{"hconcat":[
 {"width":159,"height":57,"layer":[
  {"data":{"name":"resp"},"transform":[{"filter":"datum.panel === '+ΔCₜ' && datum.type !== 'ΔCₜ'"}],"mark":{"type":"bar"},
   "encoding":{"x":{"field":"type","type":"nominal","scale":{"domain":["ΔCₜ","CT","CI","NR"],"range":[43,159],"paddingInner":0.55,"paddingOuter":0.3},"axis":{"title":"Response type","labelAngle":0,"labelFont":"Liberation Serif","labelFontSize":12,"ticks":false,"labelPadding":3,"titleFontSize":12.5,"titlePadding":5}},
    "y":{"field":"n","type":"quantitative","scale":{"domain":[0,15],"nice":false},"axis":{"values":[0,5,10,15],"offset":-43,"labels":false,"title":"# of responses","tickSize":3,"titleFontSize":11.5,"titlePadding":19}},
    "color":{"field":"type","type":"nominal","scale":{"domain":["CT","CI","NR"],"range":["#2bb56a","#1c1c1c","#b7b7b7"]},"legend":null}}},
  {"data":{"name":"resp"},"transform":[{"filter":"datum.panel === '+ΔCₜ' && datum.type === 'ΔCₜ'"}],"mark":{"type":"bar","fill":{"gradient":"linear","x1":0,"y1":0,"x2":1,"y2":1,"stops":[{"offset":0,"color":"#f7a21b"},{"offset":0.5,"color":"#f7a21b"},{"offset":0.5,"color":"#9676b0"},{"offset":1,"color":"#9676b0"}]}},
   "encoding":{"x":{"field":"type","type":"nominal"},"y":{"field":"n","type":"quantitative"}}},
  {"data":{"name":"ticks15"},"mark":{"type":"text","align":"right","baseline":"middle","fontSize":12,"dx":-13.6,"color":"#111111"},
   "encoding":{"x":{"datum":"ΔCₜ","type":"nominal","bandPosition":0},"y":{"field":"n","type":"quantitative"},"text":{"field":"n","type":"nominal"}}},
  {"data":{"values":[{"label":"+ΔCₜ"}]},"mark":{"type":"text","align":"left","baseline":"top","font":"Liberation Serif","fontStyle":"italic","fontWeight":"bold","fontSize":15,"color":"#f7a21b","dx":-5.6},
   "encoding":{"x":{"datum":"ΔCₜ","type":"nominal","bandPosition":0},"y":{"datum":15,"type":"quantitative"},"text":{"field":"label"}}},
  {"data":{"values":[{"label":"E"}]},"mark":{"type":"text","align":"left","baseline":"middle","fontSize":16,"fontWeight":"bold","dx":-57.6,"dy":-20},
   "encoding":{"x":{"datum":"ΔCₜ","type":"nominal","bandPosition":0},"y":{"datum":15,"type":"quantitative"},"text":{"field":"label"}}}
 ]},
 {"width":116,"height":57,"layer":[
  {"data":{"name":"resp"},"transform":[{"filter":"datum.panel === '-ΔCₜ' && datum.type !== 'ΔCₜ'"}],"mark":{"type":"bar"},
   "encoding":{"x":{"field":"type","type":"nominal","scale":{"domain":["ΔCₜ","CT","CI","NR"],"paddingInner":0.55,"paddingOuter":0.3},"axis":{"title":"Response type","labelAngle":0,"labelFont":"Liberation Serif","labelFontSize":12,"ticks":false,"labelPadding":3,"titleFontSize":12.5,"titlePadding":5}},
    "y":{"field":"n","type":"quantitative","scale":{"domain":[0,15],"nice":false},"axis":{"values":[0,5,10,15],"labels":false,"title":null,"tickSize":3}},
    "color":{"field":"type","type":"nominal","scale":{"domain":["CT","CI","NR"],"range":["#2bb56a","#1c1c1c","#b7b7b7"]},"legend":null}}},
  {"data":{"name":"resp"},"transform":[{"filter":"datum.panel === '-ΔCₜ' && datum.type === 'ΔCₜ'"}],"mark":{"type":"bar","fill":{"gradient":"linear","x1":0,"y1":0,"x2":1,"y2":1,"stops":[{"offset":0,"color":"#f7a21b"},{"offset":0.5,"color":"#f7a21b"},{"offset":0.5,"color":"#9676b0"},{"offset":1,"color":"#9676b0"}]}},
   "encoding":{"x":{"field":"type","type":"nominal"},"y":{"field":"n","type":"quantitative"}}},
  {"data":{"name":"ticks15"},"mark":{"type":"text","align":"right","baseline":"middle","fontSize":12,"dx":-13.6,"color":"#111111"},
   "encoding":{"x":{"datum":"ΔCₜ","type":"nominal","bandPosition":0},"y":{"field":"n","type":"quantitative"},"text":{"field":"n","type":"nominal"}}},
  {"data":{"values":[{"label":"-ΔCₜ"}]},"mark":{"type":"text","align":"left","baseline":"top","font":"Liberation Serif","fontStyle":"italic","fontWeight":"bold","fontSize":15,"color":"#8b5aa8","dx":-5.6},
   "encoding":{"x":{"datum":"ΔCₜ","type":"nominal","bandPosition":0},"y":{"datum":15,"type":"quantitative"},"text":{"field":"label"}}}
 ]},
 {"width":116,"height":57,"layer":[
  {"data":{"name":"resp"},"transform":[{"filter":"datum.panel === 'CI' && datum.type !== 'ΔCₜ'"}],"mark":{"type":"bar"},
   "encoding":{"x":{"field":"type","type":"nominal","scale":{"domain":["ΔCₜ","CT","CI","NR"],"paddingInner":0.55,"paddingOuter":0.3},"axis":{"title":"Response type","labelAngle":0,"labelFont":"Liberation Serif","labelFontSize":12,"ticks":false,"labelPadding":3,"titleFontSize":12.5,"titlePadding":5}},
    "y":{"field":"n","type":"quantitative","scale":{"domain":[0,30],"nice":false},"axis":{"values":[0,10,20,30],"labels":false,"title":null,"tickSize":3}},
    "color":{"field":"type","type":"nominal","scale":{"domain":["CT","CI","NR"],"range":["#2bb56a","#1c1c1c","#b7b7b7"]},"legend":null}}},
  {"data":{"name":"resp"},"transform":[{"filter":"datum.panel === 'CI' && datum.type === 'ΔCₜ'"}],"mark":{"type":"bar","fill":{"gradient":"linear","x1":0,"y1":0,"x2":1,"y2":1,"stops":[{"offset":0,"color":"#f7a21b"},{"offset":0.5,"color":"#f7a21b"},{"offset":0.5,"color":"#9676b0"},{"offset":1,"color":"#9676b0"}]}},
   "encoding":{"x":{"field":"type","type":"nominal"},"y":{"field":"n","type":"quantitative"}}},
  {"data":{"name":"ticks30"},"mark":{"type":"text","align":"right","baseline":"middle","fontSize":12,"dx":-13.6,"color":"#111111"},
   "encoding":{"x":{"datum":"ΔCₜ","type":"nominal","bandPosition":0},"y":{"field":"n","type":"quantitative"},"text":{"field":"n","type":"nominal"}}},
  {"data":{"values":[{"label":"CI"}]},"mark":{"type":"text","align":"left","baseline":"top","font":"Liberation Serif","fontStyle":"italic","fontWeight":"bold","fontSize":15,"color":"#111111","dx":-3},
   "encoding":{"x":{"datum":"ΔCₜ","type":"nominal","bandPosition":0},"y":{"datum":30,"type":"quantitative"},"text":{"field":"label"}}}
 ]},
 {"width":116,"height":57,"layer":[
  {"data":{"name":"resp"},"transform":[{"filter":"datum.panel === 'CT' && datum.type !== 'ΔCₜ'"}],"mark":{"type":"bar"},
   "encoding":{"x":{"field":"type","type":"nominal","scale":{"domain":["ΔCₜ","CT","CI","NR"],"paddingInner":0.55,"paddingOuter":0.3},"axis":{"title":"Response type","labelAngle":0,"labelFont":"Liberation Serif","labelFontSize":12,"ticks":false,"labelPadding":3,"titleFontSize":12.5,"titlePadding":5}},
    "y":{"field":"n","type":"quantitative","scale":{"domain":[0,30],"nice":false},"axis":{"values":[0,10,20,30],"labels":false,"title":null,"tickSize":3}},
    "color":{"field":"type","type":"nominal","scale":{"domain":["CT","CI","NR"],"range":["#2bb56a","#1c1c1c","#b7b7b7"]},"legend":null}}},
  {"data":{"name":"resp"},"transform":[{"filter":"datum.panel === 'CT' && datum.type === 'ΔCₜ'"}],"mark":{"type":"bar","fill":{"gradient":"linear","x1":0,"y1":0,"x2":1,"y2":1,"stops":[{"offset":0,"color":"#f7a21b"},{"offset":0.5,"color":"#f7a21b"},{"offset":0.5,"color":"#9676b0"},{"offset":1,"color":"#9676b0"}]}},
   "encoding":{"x":{"field":"type","type":"nominal"},"y":{"field":"n","type":"quantitative"}}},
  {"data":{"name":"ticks30"},"mark":{"type":"text","align":"right","baseline":"middle","fontSize":12,"dx":-13.6,"color":"#111111"},
   "encoding":{"x":{"datum":"ΔCₜ","type":"nominal","bandPosition":0},"y":{"field":"n","type":"quantitative"},"text":{"field":"n","type":"nominal"}}},
  {"data":{"values":[{"label":"CT"}]},"mark":{"type":"text","align":"left","baseline":"top","font":"Liberation Serif","fontStyle":"italic","fontWeight":"bold","fontSize":15,"color":"#22a060","dx":-1},
   "encoding":{"x":{"datum":"ΔCₜ","type":"nominal","bandPosition":0},"y":{"datum":30,"type":"quantitative"},"text":{"field":"label"}}}
 ]}
],"spacing":40,"bounds":"flush","resolve":{"scale":{"color":"independent","shape":"independent"}}}
]
}
